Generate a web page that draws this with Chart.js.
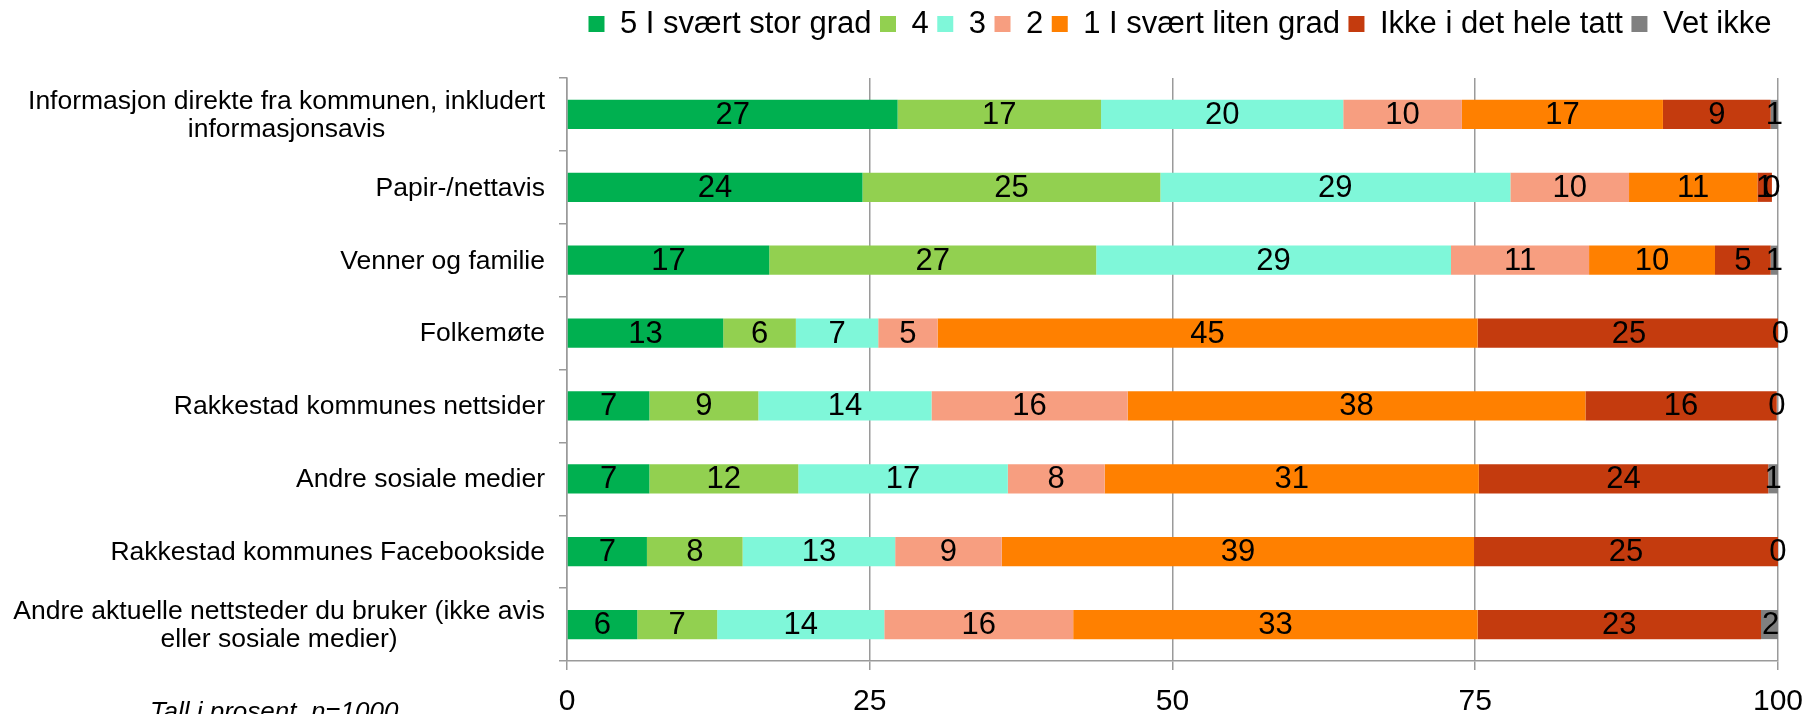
<!DOCTYPE html>
<html>
<head>
<meta charset="utf-8">
<script src="https://cdn.jsdelivr.net/npm/chart.js@4/dist/chart.umd.min.js"></script>
<style>
  html, body { margin: 0; padding: 0; background: #fff; }
</style>
</head>
<body>
<canvas id="myChart" width="1817" height="714"></canvas>
<script>
var categories = [
    ['Informasjon direkte fra kommunen, inkludert', 'informasjonsavis'],
    'Papir-/nettavis',
    'Venner og familie',
    'Folkemøte',
    'Rakkestad kommunes nettsider',
    'Andre sosiale medier',
    'Rakkestad kommunes Facebookside',
    ['Andre aktuelle nettsteder du bruker (ikke avis', 'eller sosiale medier)']
];

var seriesNames = ['5 I svært stor grad', '4', '3', '2', '1 I svært liten grad', 'Ikke i det hele tatt', 'Vet ikke'];

var grad5   = [27.3, 24.4, 16.7, 12.9,  6.8,  6.8,  6.6,  5.8];
var grad4   = [16.8, 24.6, 27.0,  6.0,  9.0, 12.3,  7.9,  6.6];
var grad3   = [20.0, 28.9, 29.3,  6.8, 14.3, 17.3, 12.6, 13.8];
var grad2   = [ 9.8,  9.8, 11.4,  4.9, 16.2,  8.0,  8.8, 15.6];
var grad1   = [16.6, 10.6, 10.4, 44.6, 37.8, 30.9, 39.0, 33.4];
var ikke    = [ 8.9,  1.2,  4.6, 25.0, 15.8, 23.9, 25.1, 23.4];
var vetIkke = [ 0.6,  0.0,  0.6,  0.0,  0.0,  0.8,  0.0,  1.6];

var xTicks = [0, 25, 50, 75, 100];
var note = 'Tall i prosent, n=1000';

var colors = ['#00b050', '#92d050', '#7ff7d9', '#f79e80', '#ff8000', '#c43b0e', '#808080'];
var series = [grad5, grad4, grad3, grad2, grad1, ikke, vetIkke];

var FONT = '"Liberation Sans", Arial, sans-serif';
Chart.defaults.font.family = FONT;
Chart.defaults.color = '#000';

// extra room under the legend
var legendGap = {
    id: 'legendGap',
    beforeInit: function (chart) {
        var fit = chart.legend.fit;
        chart.legend.fit = function () {
            fit.call(this);
            this.height += 28.5;
        };
    }
};

// numbers inside the bars
var valueLabels = {
    id: 'valueLabels',
    afterDatasetsDraw: function (chart) {
        var ctx = chart.ctx;
        ctx.save();
        ctx.font = '31px ' + FONT;
        ctx.fillStyle = '#000';
        ctx.textAlign = 'center';
        ctx.textBaseline = 'middle';
        chart.data.datasets.forEach(function (ds, i) {
            chart.getDatasetMeta(i).data.forEach(function (bar, j) {
                var p = bar.getCenterPoint();
                ctx.fillText(Math.round(ds.data[j]), p.x, p.y + 1);
            });
        });
        ctx.restore();
    }
};

// category labels: longest line right aligned, other lines centred under it
var categoryLabels = {
    id: 'categoryLabels',
    afterDraw: function (chart) {
        var ctx = chart.ctx;
        var yScale = chart.scales.y;
        var right = chart.chartArea.left - 22;
        ctx.save();
        ctx.font = '26.5px ' + FONT;
        ctx.fillStyle = '#000';
        ctx.textAlign = 'center';
        ctx.textBaseline = 'middle';
        categories.forEach(function (label, i) {
            var lines = Array.isArray(label) ? label : [label];
            var maxW = 0;
            lines.forEach(function (l) {
                maxW = Math.max(maxW, ctx.measureText(l).width);
            });
            var cx = right - maxW / 2;
            var y = yScale.getPixelForValue(i);
            lines.forEach(function (l, k) {
                ctx.fillText(l, cx, y + 1 + (k - (lines.length - 1) / 2) * 28.5);
            });
        });
        ctx.font = 'italic 26px ' + FONT;
        ctx.textAlign = 'left';
        ctx.textBaseline = 'alphabetic';
        ctx.fillText(note, 150, 720);
        ctx.restore();
    }
};

var datasets = seriesNames.map(function (name, i) {
    return {
        label: name,
        data: series[i],
        backgroundColor: colors[i],
        borderWidth: 0,
        barPercentage: 0.4,
        categoryPercentage: 1.0
    };
});

var ctx = document.getElementById('myChart');
var myChart = new Chart(ctx, {
    type: 'bar',
    data: {
        labels: categories,
        datasets: datasets
    },
    options: {
        indexAxis: 'y',
        responsive: false,
        animation: false,
        layout: {
            padding: { left: 0, right: 37, top: 0, bottom: 0 }
        },
        plugins: {
            legend: {
                position: 'top',
                align: 'end',
                labels: {
                    boxWidth: 16,
                    boxHeight: 16,
                    padding: 8.5,
                    font: { size: 31 },
                    color: '#000'
                }
            },
            tooltip: { enabled: false }
        },
        scales: {
            x: {
                stacked: true,
                min: 0,
                max: 100,
                afterBuildTicks: function (scale) {
                    scale.ticks = xTicks.map(function (v) { return { value: v }; });
                },
                afterFit: function (scale) {
                    scale.height = 53;
                },
                grid: {
                    color: '#9a9a9a',
                    lineWidth: 1.5,
                    drawTicks: true,
                    tickLength: 9
                },
                border: { display: true, color: '#9a9a9a', width: 1.5 },
                ticks: {
                    font: { size: 30 },
                    color: '#000',
                    padding: 14,
                    maxRotation: 0
                }
            },
            y: {
                stacked: true,
                afterFit: function (scale) {
                    scale.width = 567;
                },
                grid: {
                    offset: true,
                    drawOnChartArea: false,
                    drawTicks: true,
                    tickLength: 8,
                    color: '#9a9a9a',
                    lineWidth: 1.5
                },
                border: { display: true, color: '#9a9a9a', width: 1.5 },
                ticks: { display: false }
            }
        }
    },
    plugins: [legendGap, valueLabels, categoryLabels]
});
</script>
</body>
</html>
